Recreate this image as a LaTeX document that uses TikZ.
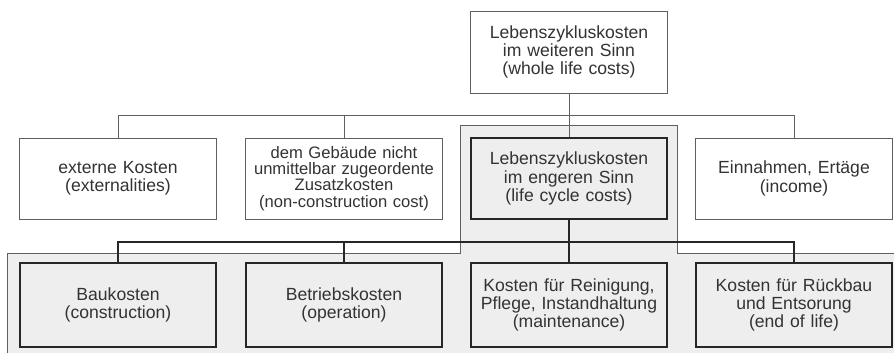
\documentclass[tikz,border=0pt]{standalone}
\usepackage{fontspec}
\setmainfont{Liberation Sans}
\definecolor{ink}{HTML}{333333}
\definecolor{rim}{HTML}{606060}
\definecolor{bg}{HTML}{EEEEEE}
\usetikzlibrary{positioning}

\begin{document}
\begin{tikzpicture}[x=1pt, y=-1pt, font=\fontsize{17.6}{18.4}\selectfont, text=ink,
  box/.style={draw=rim, line width=0.8pt, fill=white, minimum width=197pt, minimum height=81pt, text width=194pt, align=center, inner sep=0pt},
  boldbox/.style={box, draw=black!85, line width=2.6pt, fill=bg, minimum width=196pt},
  thin/.style={draw=rim, line width=0.8pt},
  thick/.style={draw=black!85, line width=2.6pt}]
\useasboundingbox (0,0) rectangle (894,353);
\fill[bg] (7,353) -- (7,253) -- (460,253) -- (460,125) -- (677,125) -- (677,253) -- (894,253) -- (894,353) -- cycle;
\draw[thin] (7,353) -- (7,253) -- (460,253) -- (460,125) -- (677,125) -- (677,253) -- (894,253);
\node[box, minimum height=82pt] (top) at (569,52) {Lebenszykluskosten\\im weiteren Sinn\\(whole life costs)};
\node[box] (ext) at (118,178.5) {externe Kosten\\(externalities)};
\node[box, font=\fontsize{16.6}{16.3}\selectfont] (extra) at (344,178.5) {dem Gebäude nicht\\unmittelbar zugeordente\\Zusatzkosten\\(non-construction cost)};
\node[boldbox] (lcc) at (569,178.5) {Lebenszykluskosten\\im engeren Sinn\\(life cycle costs)};
\node[box] (income) at (794,178.5) {Einnahmen, Ertäge\\(income)};
\foreach \x/\name/\txt in {118/bau/{Baukosten\\(construction)}, 344/betrieb/{Betriebskosten\\(operation)}, 569/pflege/{Kosten für Reinigung,\\Pflege, Instandhaltung\\(maintenance)}, 794/rueck/{Kosten für Rückbau\\und Entsorung\\(end of life)}}
  \node[boldbox, minimum height=84pt] (\name) at (\x,305) {\txt};
% connectors
\coordinate (bus1) at (569,115);
\coordinate (bus2) at (569,242);
\draw[thin] (top) -- (bus1);
\foreach \n in {ext,extra,lcc,income} \draw[thin] (bus1) -| (\n.north);
\draw[thick] (lcc) -- (bus2);
\foreach \n in {bau,betrieb,pflege,rueck} \draw[thick] (bus2) -| (\n.north);
\end{tikzpicture}
\end{document}
